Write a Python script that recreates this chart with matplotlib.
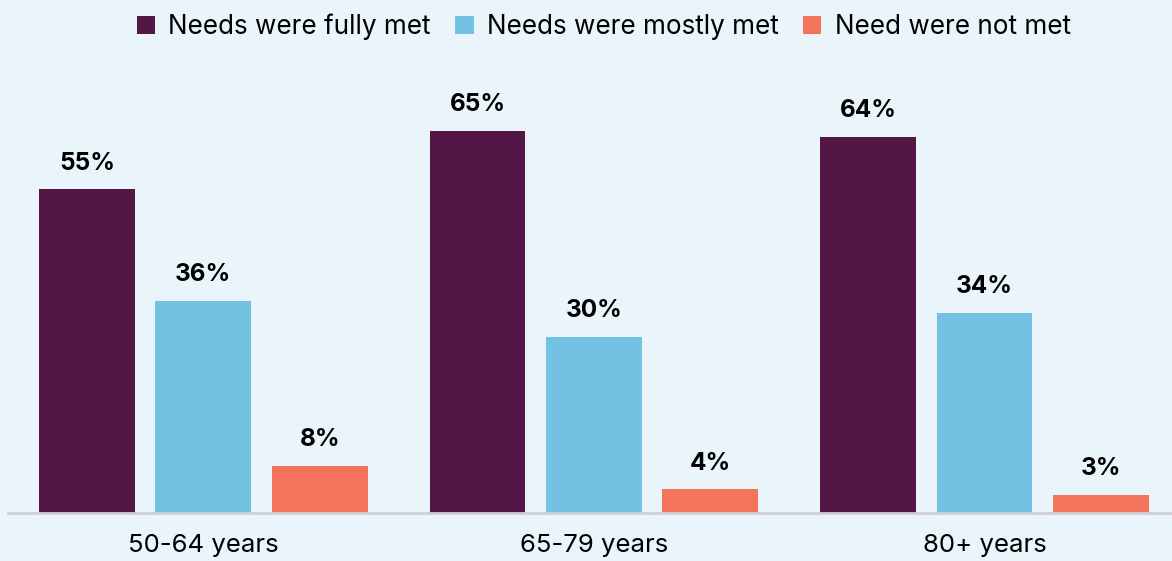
import matplotlib.pyplot as plt
import numpy as np

plt.rcParams['font.family'] = ['Inter', 'DejaVu Sans']

age_groups = ["50-64 years", "65-79 years", "80+ years"]
series_names = ["Needs were fully met", "Needs were mostly met", "Need were not met"]
fully_met = [55, 65, 64]
mostly_met = [36, 30, 34]
not_met = [8, 4, 3]

colors = ["#521747", "#73C2E3", "#F4735B"]
bg = "#EAF4FB"

fig = plt.figure(figsize=(11.72, 5.61), dpi=100, facecolor=bg)
ax = fig.add_axes([8 / 1172, 48 / 561, 1164 / 1172, 440 / 561], facecolor=bg)

x = np.arange(len(age_groups))
width = 0.245
step = 0.298

for i, (vals, name, c) in enumerate(zip([fully_met, mostly_met, not_met], series_names, colors)):
    bars = ax.bar(x + (i - 1) * step, vals, width, color=c, label=name)
    for b, v in zip(bars, vals):
        ax.annotate(f"{v}%", (b.get_x() + b.get_width() / 2, v),
                    xytext=(0, 19), textcoords="offset points",
                    ha="center", va="center", fontsize=17.5, fontweight="bold")

ax.set_xlim(-0.5, 2.48)
ax.set_ylim(0, 74.8)
ax.set_xticks(x)
ax.set_xticklabels(age_groups, fontsize=18.5)
ax.tick_params(axis="x", length=0, pad=15)
ax.set_yticks([])
for side in ["top", "right", "left"]:
    ax.spines[side].set_visible(False)
ax.spines["bottom"].set_color("#D0D0D0")
ax.spines["bottom"].set_linewidth(2)

fig.legend(loc="upper center", bbox_to_anchor=(0.515, 1.018), ncol=3, frameon=False,
           fontsize=18.8, handlelength=0.7, handleheight=0.7, handletextpad=0.5,
           columnspacing=0.95)

fig.savefig("out.png", dpi=100, facecolor=bg)
